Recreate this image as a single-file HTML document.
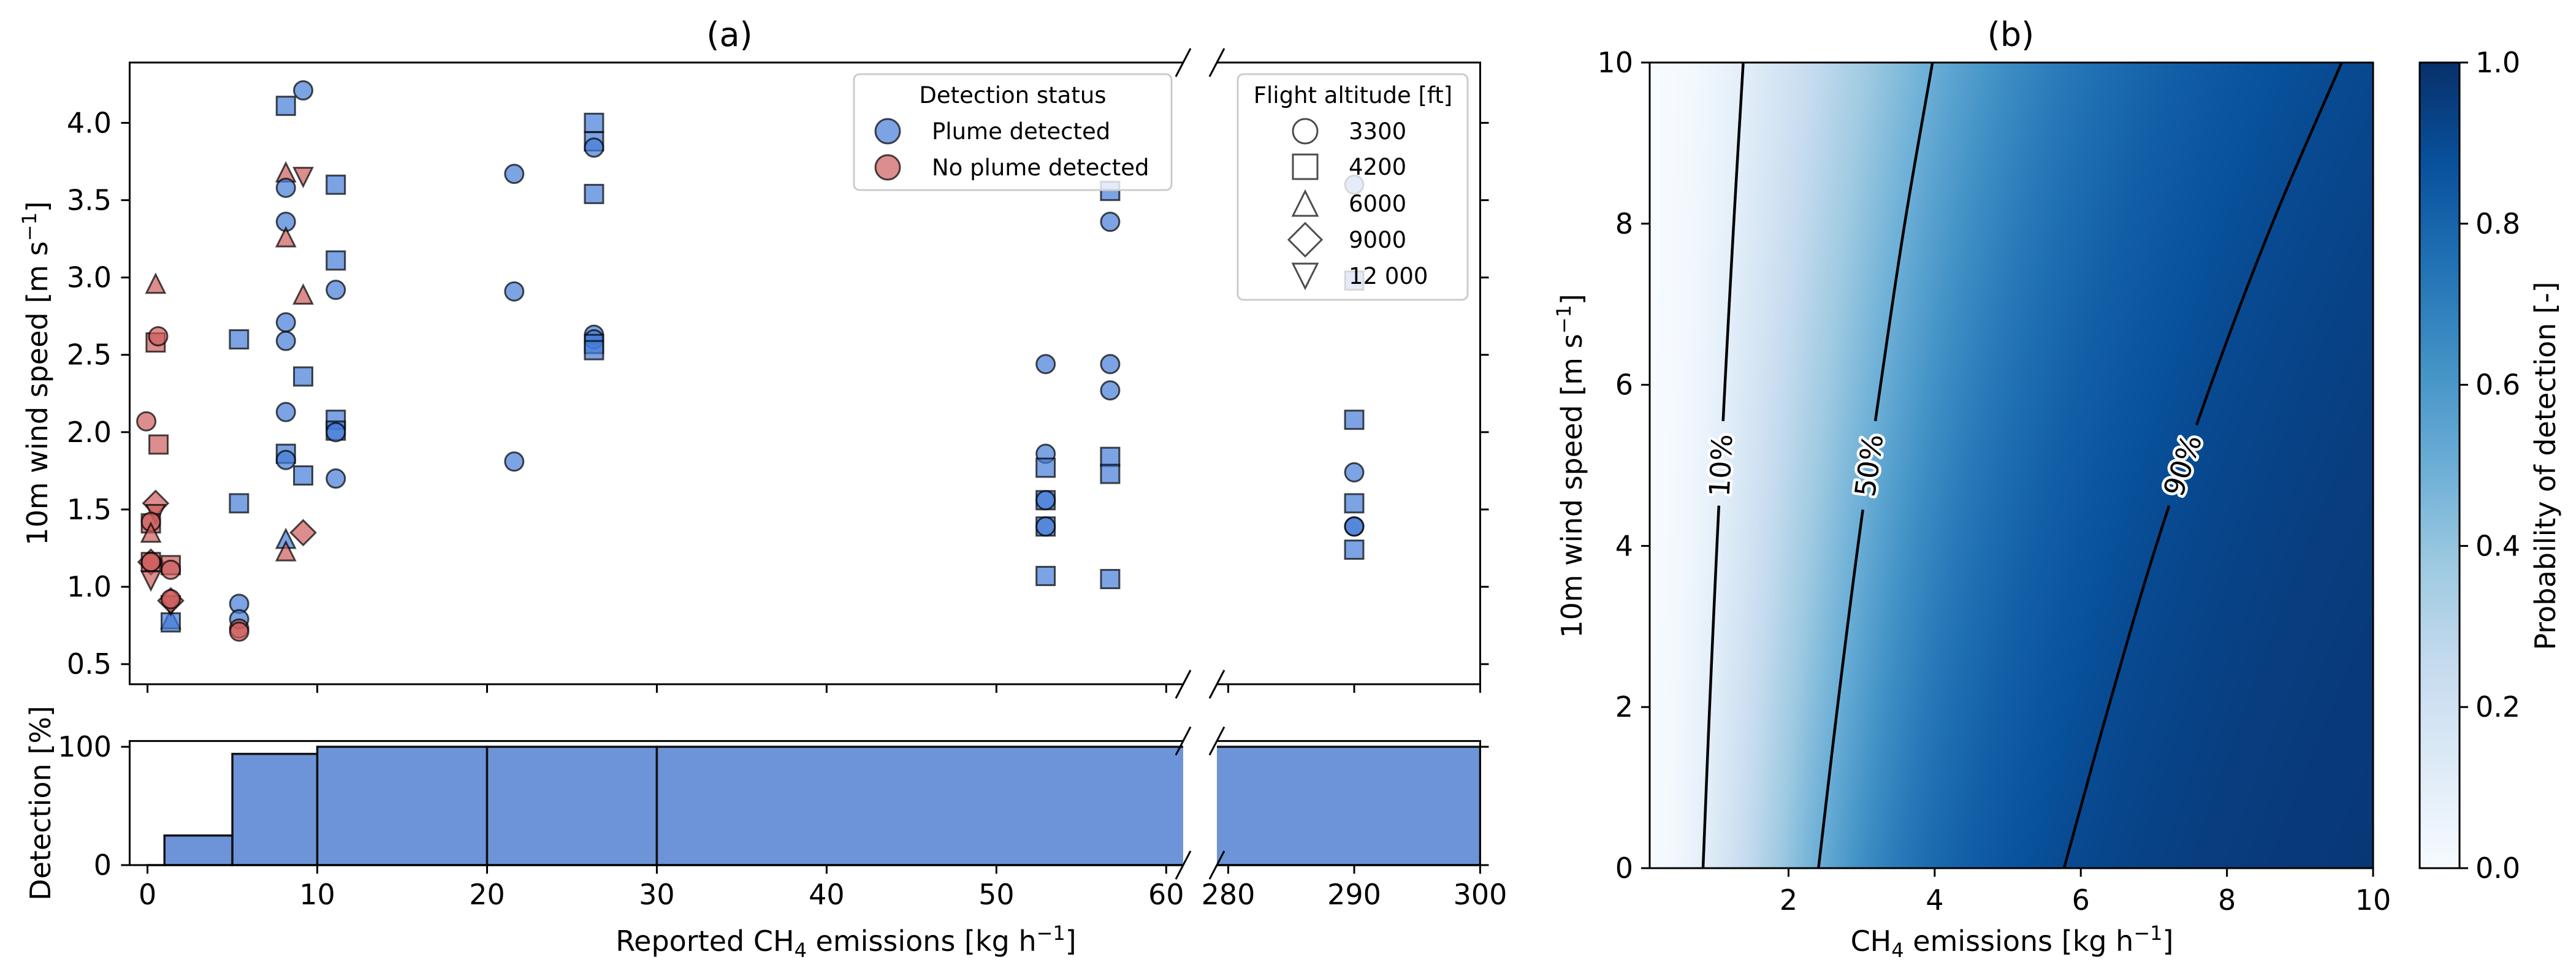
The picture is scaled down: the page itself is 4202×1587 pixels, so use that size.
<!DOCTYPE html>
<html><head><meta charset="utf-8"><style>
html,body{margin:0;padding:0;background:#fff;}
#wrap{position:relative;width:4202px;height:1587px;overflow:hidden;}
#heat{position:absolute;left:2691px;top:102px;}
svg{position:absolute;left:0;top:0;}
text{font-family:"DejaVu Sans","Liberation Sans",sans-serif;}
</style></head><body>
<div id="wrap">
<canvas id="heat" width="1180" height="1314"></canvas>
<svg id="svg" width="4202" height="1587" xmlns="http://www.w3.org/2000/svg"></svg>
</div>
<script>
// ---------- panel (a) scatter data ----------
const emis = [9.17,8.15,8.15,9.17,8.15,11.09,8.15,8.15,11.09,0.48,11.09,9.17,8.15,8.15,5.39,0.48,0.63,9.17,8.15,-0.07,11.09,11.09,11.09,0.65,8.15,8.15,9.17,11.09,0.48,5.39,0.48,0.2,0.2,0.2,9.17,8.15,8.15,0.2,0.2,0.2,0.2,1.37,1.37,1.37,1.37,1.37,1.37,1.37,5.4,5.4,5.4,5.4,21.6,21.6,21.6,26.3,26.3,26.3,26.3,26.3,26.3,26.3,26.3,52.9,52.9,52.9,52.9,52.9,52.9,52.9,52.9,56.7,56.7,56.7,56.7,56.7,56.7,56.7,290,290,290,290,290,290,290,290];
const wind = [4.21,4.11,3.68,3.65,3.58,3.60,3.36,3.26,3.11,2.96,2.92,2.89,2.71,2.59,2.60,2.58,2.62,2.36,2.13,2.07,2.08,2.01,2.00,1.92,1.86,1.82,1.72,1.70,1.54,1.54,1.47,1.41,1.42,1.35,1.35,1.31,1.23,1.16,1.16,1.16,1.04,1.14,1.11,0.79,0.77,0.88,0.91,0.92,0.89,0.79,0.73,0.71,3.67,2.91,1.81,4.00,3.88,3.84,3.54,2.63,2.60,2.57,2.53,2.44,1.86,1.77,1.56,1.56,1.39,1.39,1.07,3.56,3.36,2.44,2.27,1.84,1.73,1.05,3.60,2.98,2.08,1.74,1.54,1.39,1.39,1.24];
const detected = [1,1,0,0,1,1,1,0,1,0,1,0,1,1,1,0,0,1,1,0,1,1,1,0,1,1,1,1,0,1,0,0,0,0,0,1,0,0,0,0,0,0,0,1,1,0,0,0,1,1,0,0,1,1,1,1,1,1,1,1,1,1,1,1,1,1,1,1,1,1,1,1,1,1,1,1,1,1,1,1,1,1,1,1,1,1];
const altitude = [3300,4200,6000,12000,3300,4200,3300,6000,4200,6000,3300,6000,3300,3300,4200,4200,3300,4200,3300,3300,4200,4200,3300,4200,4200,3300,4200,3300,9000,4200,12000,4200,3300,6000,9000,6000,6000,9000,4200,3300,12000,4200,3300,6000,4200,12000,9000,3300,3300,3300,3300,3300,3300,3300,3300,4200,4200,3300,4200,3300,3300,4200,4200,3300,3300,4200,4200,3300,4200,3300,4200,4200,3300,3300,3300,4200,4200,4200,3300,4200,4200,3300,4200,3300,3300,4200];
// histogram
const binEdges = [0,1,5,10,20,30,300];
const detPct = [0,25,94,100,100,100];
const xTicksLeft = [0,10,20,30,40,50,60];
const xTicksRight = [280,290,300];
const yTicksA = [0.5,1.0,1.5,2.0,2.5,3.0,3.5,4.0];
const yTicksHist = [0,100];
// ---------- panel (b) contour data ----------
const contourLevels = [0.1,0.5,0.9];
const contourLabels = ["10%","50%","90%"];
const contourWind = [0,2,4,6,8,10];
const contour10 = [0.83,0.92,1.02,1.13,1.25,1.38];
const contour50 = [2.41,2.67,2.95,3.26,3.59,3.97];
const contour90 = [5.77,6.38,7.03,7.78,8.62,9.57];
const xTicksB = [2,4,6,8,10];
const yTicksB = [0,2,4,6,8,10];
const cbTicks = [0.0,0.2,0.4,0.6,0.8,1.0];

const NS="http://www.w3.org/2000/svg";
const svg=document.getElementById('svg');
function mk(tag,attrs,parent){const e=document.createElementNS(NS,tag);for(const k in attrs)e.setAttribute(k,attrs[k]);(parent||svg).appendChild(e);return e;}
function txt(s,x,y,size,anchor,parent){const t=mk('text',{x:x,y:y,'font-size':size,'text-anchor':anchor||'middle',fill:'#000'},parent);t.textContent=s;return t;}

// scales panel a
const AL={x0:211.5,x1:1930,d0:-1.05,d1:61.0};
const AR={x0:1985,x1:2414.5,d0:279.1,d1:300};
function sxL(v){return AL.x0+(v-AL.d0)/(AL.d1-AL.d0)*(AL.x1-AL.x0);}
function sxR(v){return AR.x0+(v-AR.d0)/(AR.d1-AR.d0)*(AR.x1-AR.x0);}
const TOP={y0:102,y1:1116,d0:0.37,d1:4.39};
function syA(v){return TOP.y1-(v-TOP.d0)/(TOP.d1-TOP.d0)*(TOP.y1-TOP.y0);}
const HIST={y0:1208.6,y1:1411,d0:0,d1:104.9};
function syH(v){return HIST.y1-(v-HIST.d0)/(HIST.d1-HIST.d0)*(HIST.y1-HIST.y0);}

const defs=mk('defs',{});
const c1=mk('clipPath',{id:'clipL'},defs);mk('rect',{x:AL.x0,y:0,width:AL.x1-AL.x0,height:1587},c1);
const c2=mk('clipPath',{id:'clipR'},defs);mk('rect',{x:AR.x0,y:0,width:AR.x1-AR.x0,height:1587},c2);

// ---- histogram ----
const gHist=mk('g',{});
[['clipL',sxL],['clipR',sxR]].forEach(([cid,sx])=>{
  const g=mk('g',{'clip-path':'url(#'+cid+')'},gHist);
  for(let i=0;i<detPct.length;i++){
    const xa=sx(binEdges[i]),xb=sx(binEdges[i+1]),yt=syH(detPct[i]),yb=syH(0);
    const r=mk('rect',{x:xa,y:yt,width:xb-xa,height:Math.max(yb-yt,0.01),fill:'#6d94d8',stroke:'#111','stroke-width':3.5},g);
    
    
  }
});

// ---- scatter ----
const BLUE='#447cd7',RED='#cd5c5c';
function marker(alt,cx,cy,s,parent,fill,fo,so){
  let e;const st={fill:fill,'fill-opacity':fo,stroke:'#000','stroke-opacity':so,'stroke-width':3};
  if(alt===3300){e=mk('circle',Object.assign({cx:cx,cy:cy,r:s},st),parent);}
  else if(alt===4200){e=mk('rect',Object.assign({x:cx-s,y:cy-s,width:2*s,height:2*s},st),parent);}
  else if(alt===6000){e=mk('polygon',Object.assign({points:`${cx},${cy-s} ${cx-s},${cy+s} ${cx+s},${cy+s}`},st),parent);}
  else if(alt===9000){const d=s*1.35;e=mk('polygon',Object.assign({points:`${cx},${cy-d} ${cx+d},${cy} ${cx},${cy+d} ${cx-d},${cy}`},st),parent);}
  else {e=mk('polygon',Object.assign({points:`${cx},${cy+s} ${cx-s},${cy-s} ${cx+s},${cy-s}`},st),parent);}
  return e;
}
const gSc=mk('g',{});
const gScL=mk('g',{'clip-path':'url(#clipL)'},gSc);
const gScR=mk('g',{'clip-path':'url(#clipR)'},gSc);
for(let i=0;i<emis.length;i++){
  const right=emis[i]>100;
  const cx=right?sxR(emis[i]):sxL(emis[i]);
  const e=marker(altitude[i],cx,syA(wind[i]),15,right?gScR:gScL,detected[i]?BLUE:RED,0.7,0.7);
  
  
}

// ---- axes panel a ----
const gAx=mk('g',{stroke:'#000','stroke-width':3,fill:'none'});
function frame(y0,y1){
  mk('polyline',{points:`${AL.x1},${y0} ${AL.x0},${y0} ${AL.x0},${y1} ${AL.x1},${y1}`},gAx);
  mk('polyline',{points:`${AR.x0},${y0} ${AR.x1},${y0} ${AR.x1},${y1} ${AR.x0},${y1}`},gAx);
  [AL.x1,AR.x0].forEach(x=>{[y0,y1].forEach(y=>{mk('line',{x1:x-12,y1:y+23,x2:x+12,y2:y-23},gAx);});});
}
frame(TOP.y0,TOP.y1);frame(HIST.y0,HIST.y1);
xTicksLeft.forEach(v=>{const x=sxL(v);mk('line',{x1:x,y1:TOP.y1,x2:x,y2:TOP.y1+14},gAx);mk('line',{x1:x,y1:HIST.y1,x2:x,y2:HIST.y1+14},gAx);});
xTicksRight.forEach(v=>{const x=sxR(v);mk('line',{x1:x,y1:TOP.y1,x2:x,y2:TOP.y1+14},gAx);mk('line',{x1:x,y1:HIST.y1,x2:x,y2:HIST.y1+14},gAx);});
yTicksA.forEach(v=>{const y=syA(v);mk('line',{x1:AL.x0-14,y1:y,x2:AL.x0,y2:y},gAx);mk('line',{x1:AR.x1,y1:y,x2:AR.x1+14,y2:y},gAx);});
yTicksHist.forEach(v=>{const y=syH(v);mk('line',{x1:AL.x0-14,y1:y,x2:AL.x0,y2:y},gAx);mk('line',{x1:AR.x1,y1:y,x2:AR.x1+14,y2:y},gAx);});
const gLab=mk('g',{});
yTicksA.forEach(v=>{txt(v.toFixed(1),182,syA(v)+16,46,'end',gLab);});
yTicksHist.forEach(v=>{txt(String(v),182,syH(v)+16,46,'end',gLab);});
xTicksLeft.forEach(v=>{txt(String(v),sxL(v),1475,46,'middle',gLab);});
xTicksRight.forEach(v=>{txt(String(v),sxR(v),1475,46,'middle',gLab);});
</script>
<script>
(function(){
const s=document.getElementById('svg');
s.insertAdjacentHTML('beforeend',`
<text x="1190" y="75" font-size="54" text-anchor="middle">(a)</text>
<text x="3280" y="75" font-size="54" text-anchor="middle">(b)</text>
<text transform="translate(77,609) rotate(-90)" font-size="46" text-anchor="middle">10m wind speed [m s<tspan dy="-18" font-size="32">−1</tspan><tspan dy="18">]</tspan></text>
<text transform="translate(82,1310) rotate(-90)" font-size="46" text-anchor="middle">Detection [%]</text>
<text x="1380" y="1551" font-size="46" text-anchor="middle">Reported CH<tspan dy="10" font-size="32">4</tspan><tspan dy="-10"> emissions [kg h</tspan><tspan dy="-18" font-size="32">−1</tspan><tspan dy="18">]</tspan></text>
<text transform="translate(2580,760) rotate(-90)" font-size="46" text-anchor="middle">10m wind speed [m s<tspan dy="-18" font-size="32">−1</tspan><tspan dy="18">]</tspan></text>
<text x="3282" y="1551" font-size="46" text-anchor="middle">CH<tspan dy="10" font-size="32">4</tspan><tspan dy="-10"> emissions [kg h</tspan><tspan dy="-18" font-size="32">−1</tspan><tspan dy="18">]</tspan></text>
<text transform="translate(4168,760) rotate(-90)" font-size="46" text-anchor="middle">Probability of detection [-]</text>
`);
})();
</script>
<script>
(function(){
const lg1=mk('g',{});
mk('rect',{x:1393,y:121,width:518,height:189,rx:9,fill:'#fff','fill-opacity':0.8,stroke:'#ccc','stroke-width':3},lg1);
txt('Detection status',1652,168,37,'middle',lg1);
const e1=marker(3300,1448,214,20,lg1,BLUE,0.7,0.7);


txt('Plume detected',1520,227,37,'start',lg1);
const e2=marker(3300,1448,273,20,lg1,RED,0.7,0.7);


txt('No plume detected',1520,286,37,'start',lg1);
const lg2=mk('g',{});
mk('rect',{x:2019,y:121,width:375,height:368,rx:9,fill:'#fff','fill-opacity':0.8,stroke:'#ccc','stroke-width':3},lg2);
txt('Flight altitude [ft]',2207,168,37,'middle',lg2);
const alts=[3300,4200,6000,9000,12000],labs=['3300','4200','6000','9000','12 000'],rows=[214,272,332,391,450];
alts.forEach((a,i)=>{
  const m=marker(a,2129,rows[i],20,lg2,'#fff',1,0.7);
  
  
  txt(labs[i],2200,rows[i]+13,37,'start',lg2);
});
})();
</script>
<script>
(function(){
const B={x0:2691,x1:3871,y0:102,y1:1416,d0:0.1,d1:10};
function sxB(v){return B.x0+(v-B.d0)/(B.d1-B.d0)*(B.x1-B.x0);}
function syB(v){return B.y1-v/10*(B.y1-B.y0);}
const contours=[contour10,contour50,contour90];
const logits=contourLevels.map(p=>Math.log(p/(1-p)));
// smooth Catmull-Rom interpolation through contour points
function interpAt(arr,w){
  const n=contourWind.length;
  let i=0;while(i<n-2&&w>contourWind[i+1])i++;
  const t=(w-contourWind[i])/(contourWind[i+1]-contourWind[i]);
  const p0=i>0?arr[i-1]:2*arr[i]-arr[i+1],p1=arr[i],p2=arr[i+1],p3=i+2<n?arr[i+2]:2*arr[i+1]-arr[i];
  const t2=t*t,t3=t2*t;
  return 0.5*((2*p1)+(-p0+p2)*t+(2*p0-5*p1+4*p2-p3)*t2+(-p0+3*p1-3*p2+p3)*t3);
}
const blues=[[247,251,255],[222,235,247],[198,219,239],[158,202,225],[107,174,214],[66,146,198],[33,113,181],[8,81,156],[8,48,107]];
function cmap(p){p=Math.max(0,Math.min(1,p));const f=p*8,i=Math.min(7,Math.floor(f)),t=f-i;const a=blues[i],b=blues[i+1];return [a[0]+(b[0]-a[0])*t,a[1]+(b[1]-a[1])*t,a[2]+(b[2]-a[2])*t];}
const cv=document.getElementById('heat'),ctx=cv.getContext('2d');
const W=cv.width,H=cv.height,img=ctx.createImageData(W,H);
for(let py=0;py<H;py++){
  const w=10-(py+0.5)/H*10;
  const lx=contours.map(c=>Math.log(interpAt(c,w)));
  for(let px=0;px<W;px++){
    const x=B.d0+(px+0.5)/W*(B.d1-B.d0),l=Math.log(x);
    let seg=l<lx[1]?0:1;
    const z=logits[seg]+(l-lx[seg])*(logits[seg+1]-logits[seg])/(lx[seg+1]-lx[seg]);
    const c=cmap(1/(1+Math.exp(-z)));const k=(py*W+px)*4;
    img.data[k]=c[0];img.data[k+1]=c[1];img.data[k+2]=c[2];img.data[k+3]=255;
  }
}
ctx.putImageData(img,0,0);
const gC=mk('g',{});
const gap=[[4.51,5.52],[4.5,5.5],[4.55,5.45]];
contours.forEach((c,ci)=>{
  let segs=[[],[]];
  for(let k=0;k<=200;k++){const w=k/20;const p=[sxB(interpAt(c,w)),syB(w)];if(w<gap[ci][0])segs[0].push(p);else if(w>gap[ci][1])segs[1].push(p);}
  segs.forEach(sg=>{const pl=mk('polyline',{points:sg.map(p=>p.join(',')).join(' '),fill:'none',stroke:'#000','stroke-width':4.5},gC);
    
    });
  const wm=5.0,x=sxB(interpAt(c,wm)),y=syB(wm);
  const dx=sxB(interpAt(c,wm+0.5))-sxB(interpAt(c,wm-0.5)),dy=syB(wm+0.5)-syB(wm-0.5);
  const ang=Math.atan2(dy,dx)*180/Math.PI;
  const t=mk('text',{x:0,y:16,'font-size':46,'text-anchor':'middle',fill:'#000',stroke:'#fff','stroke-width':9,'paint-order':'stroke','stroke-linejoin':'round',transform:`translate(${x},${y}) rotate(${ang})`},gC);
  t.textContent=contourLabels[ci];
  
  
});
const gB=mk('g',{});
mk('rect',{x:B.x0,y:B.y0,width:B.x1-B.x0,height:B.y1-B.y0,fill:'none',stroke:'#000','stroke-width':3},gB);
xTicksB.forEach(v=>{const x=sxB(v);mk('line',{x1:x,y1:B.y1,x2:x,y2:B.y1+14,stroke:'#000','stroke-width':3},gB);txt(String(v),x,1484,46,'middle',gB);});
yTicksB.forEach(v=>{const y=syB(v);mk('line',{x1:B.x0-14,y1:y,x2:B.x0,y2:y,stroke:'#000','stroke-width':3},gB);txt(String(v),2664,y+16,46,'end',gB);});
const gCb=mk('g',{});
const lgd=mk('linearGradient',{id:'cbg',x1:0,y1:1,x2:0,y2:0},defs);
blues.forEach((c,i)=>{mk('stop',{offset:(i/8),'stop-color':`rgb(${c[0]},${c[1]},${c[2]})`},lgd);});
mk('rect',{x:3947,y:B.y0,width:65,height:B.y1-B.y0,fill:'url(#cbg)',stroke:'#000','stroke-width':3},gCb);
cbTicks.forEach(v=>{const y=B.y1-v*(B.y1-B.y0);mk('line',{x1:4012,y1:y,x2:4026,y2:y,stroke:'#000','stroke-width':3},gCb);txt(v.toFixed(1),4038,y+16,46,'start',gCb);});
})();
</script>
</body></html>
